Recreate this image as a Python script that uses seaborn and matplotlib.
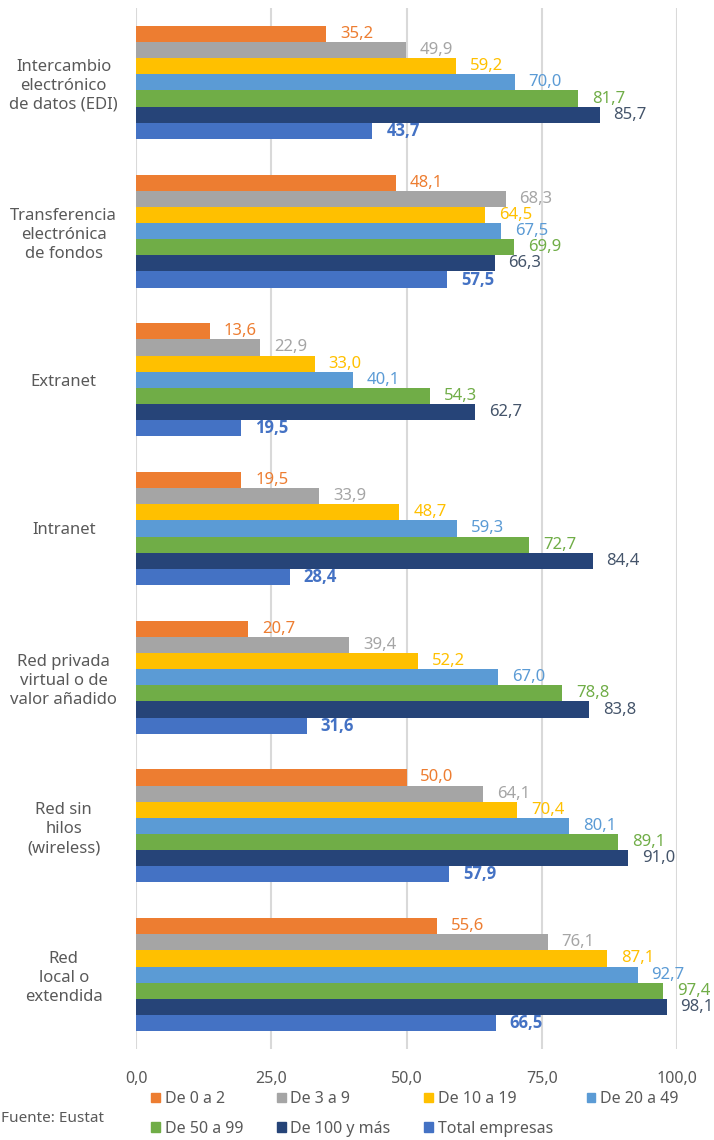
import pandas as pd
import matplotlib
matplotlib.use("Agg")
import matplotlib.pyplot as plt
from matplotlib import font_manager
import seaborn as sns

# ---------------------------------------------------------------------------
# Data
# ---------------------------------------------------------------------------

CATEGORIES = [
    "Intercambio\nelectrónico\nde datos (EDI)",
    "Transferencia\nelectrónica\nde fondos",
    "Extranet",
    "Intranet",
    "Red privada\nvirtual o de\nvalor añadido",
    "Red sin\nhilos\n(wireless)",
    "Red\nlocal o\nextendida",
]
SERIES = ["De 0 a 2", "De 3 a 9", "De 10 a 19", "De 20 a 49",
          "De 50 a 99", "De 100 y más", "Total empresas"]

de_0_2     = [35.2, 48.1, 13.6, 19.5, 20.7, 50.0, 55.6]
de_3_9     = [49.9, 68.3, 22.9, 33.9, 39.4, 64.1, 76.1]
de_10_19   = [59.2, 64.5, 33.0, 48.7, 52.2, 70.4, 87.1]
de_20_49   = [70.0, 67.5, 40.1, 59.3, 67.0, 80.1, 92.7]
de_50_99   = [81.7, 69.9, 54.3, 72.7, 78.8, 89.1, 97.4]
de_100_mas = [85.7, 66.3, 62.7, 84.4, 83.8, 91.0, 98.1]
total      = [43.7, 57.5, 19.5, 28.4, 31.6, 57.9, 66.5]

X_TICKS = [0, 25, 50, 75, 100]

BAR_COLORS   = ["#ED7D31", "#A5A5A5", "#FFC000", "#5B9BD5", "#70AD47", "#264478", "#4472C4"]
LABEL_COLORS = ["#ED7D31", "#A5A5A5", "#FFC000", "#5B9BD5", "#70AD47", "#44546A", "#4472C4"]
TEXT_GRAY = "#595959"

# ---------------------------------------------------------------------------
# Build long table
# ---------------------------------------------------------------------------

values = [de_0_2, de_3_9, de_10_19, de_20_49, de_50_99, de_100_mas, total]
rows = []
for s, vals in zip(SERIES, values):
    for c, v in zip(CATEGORIES, vals):
        rows.append({"cat": c, "serie": s, "valor": v})
df = pd.DataFrame(rows)

sns.set_style("white")
plt.rcParams["font.family"] = ["Noto Sans", "DejaVu Sans"]

# pick a family that really has a bold face for the "Total" labels
bold_family = "Noto Sans"
for fam in ["Noto Sans", "Open Sans", "Lato", "Roboto", "Liberation Sans"]:
    try:
        path = font_manager.findfont(
            font_manager.FontProperties(family=fam, weight="bold"), fallback_to_default=False)
        if "bold" in path.lower():
            bold_family = fam
            break
    except Exception:
        pass

fig = plt.figure(figsize=(7.14, 11.4), dpi=100)
ax = fig.add_axes([136 / 714, 1 - 1049 / 1140, 541 / 714, 1041 / 1140])

sns.barplot(
    data=df, x="valor", y="cat", hue="serie", orient="h",
    order=CATEGORIES, hue_order=SERIES, palette=BAR_COLORS,
    width=0.76, gap=0, saturation=1, legend=False, errorbar=None,
    linewidth=0, edgecolor="none", ax=ax,
)

# value labels
for i, cont in enumerate(ax.containers):
    labels = [f"{v:.1f}".replace(".", ",") for v in values[i]]
    is_total = i == len(SERIES) - 1
    ax.bar_label(
        cont, labels=labels, padding=10, color=LABEL_COLORS[i], fontsize=12,
        fontweight="bold" if is_total else "normal",
        family=[bold_family, "DejaVu Sans"] if is_total else ["Noto Sans", "DejaVu Sans"],
    )

ax.set_xlim(0, 100)
ax.set_ylim(len(CATEGORIES) - 0.5, -0.5)
ax.set_xticks(X_TICKS)
ax.set_xticklabels([f"{t:.1f}".replace(".", ",") for t in X_TICKS],
                   color=TEXT_GRAY, fontsize=11.5)
ax.set_yticks(range(len(CATEGORIES)))
ax.set_yticklabels(CATEGORIES, ha="center", ma="center", color=TEXT_GRAY,
                   fontsize=12, linespacing=1.25)
ax.tick_params(axis="y", length=0, pad=52)
ax.tick_params(axis="x", length=0, pad=16)
ax.xaxis.grid(True, color="#D9D9D9", linewidth=1.5)
ax.set_axisbelow(True)
for sp in ax.spines.values():
    sp.set_visible(False)
ax.set_xlabel("")
ax.set_ylabel("")

# legend, row-major order in 4 columns
handles = [plt.Rectangle((0, 0), 1, 1, color=c) for c in BAR_COLORS]
order = [0, 4, 1, 5, 2, 6, 3]
fig.legend(
    [handles[k] for k in order], [SERIES[k] for k in order],
    ncol=4, loc="center left", bbox_to_anchor=(140 / 714, 1 - 1114 / 1140),
    frameon=False, fontsize=11.5, handlelength=0.55, handleheight=0.55,
    handletextpad=0.3, columnspacing=2.1, labelspacing=0.85, labelcolor=TEXT_GRAY,
    borderpad=0.2,
)

fig.text(1 / 714, 1 - 1119 / 1140, "Fuente: Eustat", color=TEXT_GRAY,
         fontsize=11, va="center", ha="left")

fig.savefig("out.png", dpi=100)
